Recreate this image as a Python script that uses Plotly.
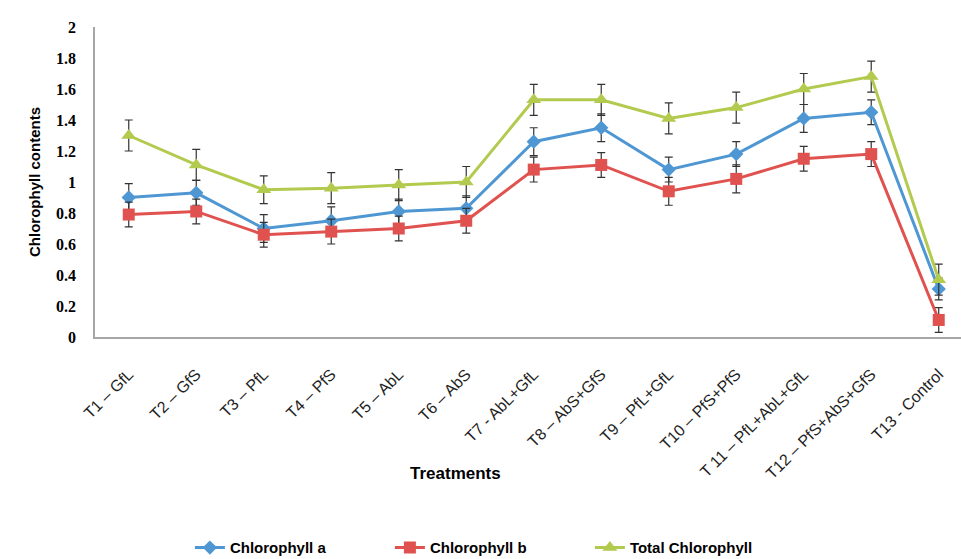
import plotly.graph_objects as go

treatments = ["T1 – GfL", "T2 – GfS", "T3 – PfL", "T4 – PfS", "T5 – AbL", "T6 – AbS",
              "T7 - AbL+GfL", "T8 – AbS+GfS", "T9 – PfL+GfL", "T10 – PfS+PfS",
              "T 11 – PfL+AbL+GfL", "T12 – PfS+AbS+GfS", "T13 - Control"]

chl_a = [0.90, 0.93, 0.70, 0.75, 0.81, 0.83, 1.26, 1.35, 1.08, 1.18, 1.41, 1.45, 0.31]
chl_a_err = [0.09, 0.08, 0.09, 0.09, 0.08, 0.08, 0.09, 0.09, 0.08, 0.08, 0.09, 0.08, 0.07]

chl_b = [0.79, 0.81, 0.66, 0.68, 0.70, 0.75, 1.08, 1.11, 0.94, 1.02, 1.15, 1.18, 0.11]
chl_b_err = [0.08, 0.08, 0.08, 0.08, 0.08, 0.08, 0.08, 0.08, 0.09, 0.09, 0.08, 0.08, 0.08]

chl_total = [1.30, 1.11, 0.95, 0.96, 0.98, 1.00, 1.53, 1.53, 1.41, 1.48, 1.60, 1.68, 0.37]
chl_total_err = [0.10, 0.10, 0.09, 0.10, 0.10, 0.10, 0.10, 0.10, 0.10, 0.10, 0.10, 0.10, 0.10]

y_ticks = [0, 0.2, 0.4, 0.6, 0.8, 1, 1.2, 1.4, 1.6, 1.8, 2]
y_tick_text = ["0", "0.2", "0.4", "0.6", "0.8", "1", "1.2", "1.4", "1.6", "1.8", "2"]

series = [
    ("Chlorophyll a", chl_a, chl_a_err, "#4F97D3", "diamond", 11),
    ("Chlorophyll b", chl_b, chl_b_err, "#E0524F", "square", 12),
    ("Total Chlorophyll", chl_total, chl_total_err, "#B2CA4E", "triangle-up", 13),
]

fig = go.Figure()
for name, vals, errs, color, symbol, size in series:
    fig.add_trace(go.Scatter(
        x=list(range(len(treatments))), y=vals, name=name,
        mode="lines+markers",
        line=dict(color=color, width=3),
        marker=dict(symbol=symbol, size=size, color=color, line=dict(width=0)),
        error_y=dict(type="data", array=errs, visible=True,
                     color="#333333", thickness=1.2, width=4),
    ))

fig.update_layout(
    width=961, height=559,
    margin=dict(l=95, r=0, t=27, b=222, autoexpand=False),
    paper_bgcolor="white", plot_bgcolor="white",
    showlegend=True,
    legend=dict(orientation="h", x=0.456, y=-0.68, xanchor="center", yanchor="middle",
                font=dict(family="Liberation Sans Narrow, Liberation Sans, Arial", size=15,
                          color="black", weight="bold"),
                entrywidth=155, entrywidthmode="pixels",
                tracegroupgap=0, traceorder="normal"),
    font=dict(family="Liberation Sans, Arial", color="black"),
)

fig.update_xaxes(
    range=[-0.5, 12.33], automargin=False,
    tickmode="array", tickvals=list(range(len(treatments))), ticktext=treatments,
    tickangle=-45,
    tickfont=dict(family="Liberation Sans, Arial", size=16, color="#222222"),
    ticklabelstandoff=20,
    showline=True, linecolor="#A6A6A6", linewidth=1.5,
    showgrid=False, zeroline=False, ticks="",
)

fig.update_yaxes(
    range=[0, 2], automargin=False,
    tickmode="array", tickvals=y_ticks, ticktext=y_tick_text,
    tickfont=dict(family="Liberation Serif, Times New Roman", size=16, color="black", weight="bold"),
    ticklabelstandoff=14,
    showline=True, linecolor="#A6A6A6", linewidth=1.5,
    showgrid=False, zeroline=False, ticks="",
    title=dict(text="Chlorophyll contents", standoff=12,
               font=dict(family="Liberation Sans, Arial", size=15, color="black", weight="bold")),
)

fig.add_annotation(
    text="Treatments", xref="paper", yref="paper",
    x=(455 - 95) / 866, y=-(473 - 337) / 310, xanchor="center", yanchor="middle",
    showarrow=False,
    font=dict(family="Liberation Sans Narrow, Liberation Sans, Arial", size=17,
              color="black", weight="bold"),
)

fig.write_html("out.html")
